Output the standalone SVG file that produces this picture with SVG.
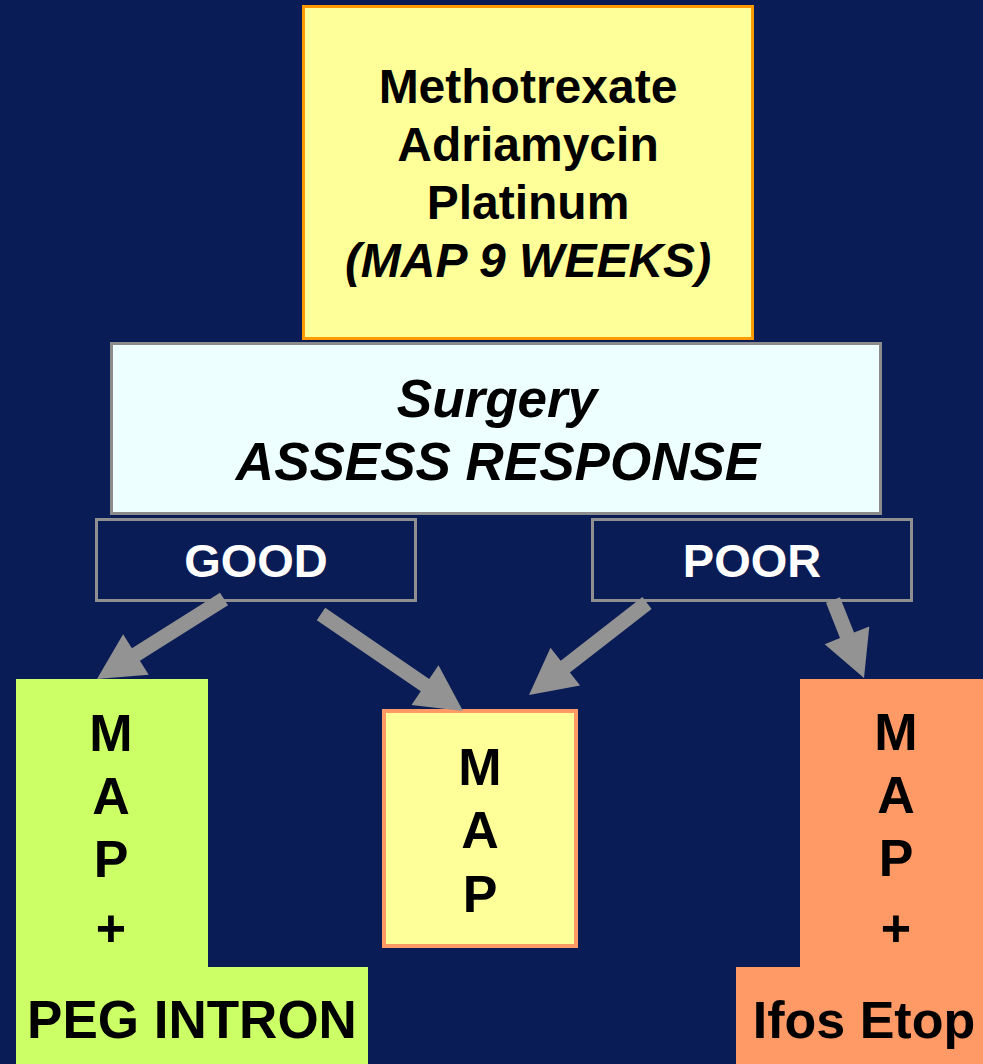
<svg xmlns="http://www.w3.org/2000/svg" width="983" height="1064" viewBox="0 0 983 1064">
<style>
.t{font-family:"Liberation Sans",Arial,sans-serif;font-weight:bold;text-anchor:middle;fill:#000}
.w{fill:#fff}
.i{font-style:italic}
.s46{font-size:47px}
.s48{font-size:48px}
.s52{font-size:52px}
.s53{font-size:53px}
.arrow{fill:#939393}
.lbl{fill:#0A1C55;stroke:#8F8F8F;stroke-width:3}
</style>
<rect x="0" y="0" width="983" height="1064" fill="#0A1C55"/>
<g id="node-map9">
<rect x="303.5" y="6.5" width="449" height="332" fill="#FFFF99" stroke="#FF9900" stroke-width="3"/>
<text class="t s48" x="528" y="103">Methotrexate</text>
<text class="t s48" x="528" y="161">Adriamycin</text>
<text class="t s48" x="528" y="219">Platinum</text>
<text class="t s48 i" x="528" y="277">(MAP 9 WEEKS)</text>
</g>
<g id="node-surgery">
<rect x="111.5" y="343.5" width="769" height="170" fill="#EEFFFF" stroke="#8C8C8C" stroke-width="3"/>
<text class="t s53 i" x="497" y="417">Surgery</text>
<text class="t s53 i" x="498" y="480">ASSESS RESPONSE</text>
</g>
<g id="node-good">
<rect class="lbl" x="96.5" y="519.5" width="319" height="81"/>
<text class="t w s46" x="256" y="577">GOOD</text>
</g>
<g id="node-poor">
<rect class="lbl" x="592.5" y="519.5" width="319" height="81"/>
<text class="t w s46" x="752" y="577">POOR</text>
</g>
<g id="node-peg">
<polygon points="16,679 208,679 208,967 368,967 368,1064 16,1064" fill="#CCFF66"/>
<text class="t s52" x="111" y="751">M</text>
<text class="t s52" x="111" y="814">A</text>
<text class="t s52" x="111" y="877">P</text>
<text class="t s52" x="111" y="946">+</text>
<text class="t s53" x="192" y="1038">PEG INTRON</text>
</g>
<g id="node-map">
<rect x="384" y="711" width="192" height="235" fill="#FFFF99" stroke="#FF9966" stroke-width="4"/>
<text class="t s52" x="480" y="785">M</text>
<text class="t s52" x="480" y="848">A</text>
<text class="t s52" x="480" y="912">P</text>
</g>
<g id="node-ifos">
<polygon points="800,679 983,679 983,1064 736,1064 736,967 800,967" fill="#FF9966"/>
<text class="t s52" x="896" y="750">M</text>
<text class="t s52" x="896" y="813">A</text>
<text class="t s52" x="896" y="876">P</text>
<text class="t s52" x="896" y="946">+</text>
<text class="t s52" x="864" y="1038">Ifos Etop</text>
</g>
<g id="connectors">
<polygon class="arrow" points="220.0,592.7 131.9,648.2 123.1,634.2 97,679 148.7,674.8 139.9,660.8 228.0,605.3"/>
<polygon class="arrow" points="325.2,607.8 429.2,678.9 438.5,665.3 463,711 411.5,704.9 420.8,691.3 316.8,620.2"/>
<polygon class="arrow" points="642.4,597.1 560.7,660.8 550.5,647.8 529,695 580.1,685.6 569.9,672.6 651.6,608.9"/>
<polygon class="arrow" points="840.0,597.2 854.0,632.5 869.3,626.4 864,678 824.7,644.2 840.0,638.1 826.0,602.8"/>
</g>
</svg>
